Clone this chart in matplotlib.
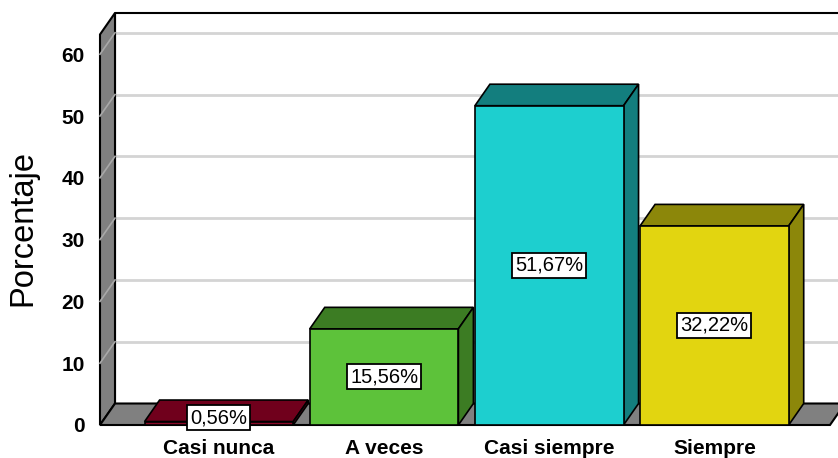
import numpy as np
import matplotlib
matplotlib.use("Agg")
import matplotlib.pyplot as plt
from matplotlib.patches import Polygon, Rectangle

plt.rcParams['font.family'] = ['Liberation Sans', 'DejaVu Sans']

# data
categorias = ['Casi nunca', 'A veces', 'Casi siempre', 'Siempre']
porcentajes = [0.56, 15.56, 51.67, 32.22]
yticks = [0, 10, 20, 30, 40, 50, 60]

# colours: front face, top/side face
frente = ['#8A0A28', '#5DC23A', '#1DCFCF', '#E2D510']
lado = ['#70001C', '#3C7C23', '#137E7E', '#8C870A']

fig = plt.figure(figsize=(8.38, 4.58), dpi=100)
W, H = 838, 458
ax = fig.add_axes([100 / W, 33 / H, 730 / W, 389.3 / H])
x_min, x_max = -0.72, 3.70
y_max = 63
ax.set_xlim(x_min, x_max)
ax.set_ylim(0, y_max)

# depth of the 3d effect (pixels -> data units)
inv = ax.transData.inverted()
p0 = ax.transData.transform((0, 0))
dx, dy = inv.transform(p0 + np.array([15, 21.5]))

def fondo(x, y):
    return (x + dx, y + dy)

tope = 63.2  # height of the walls

# back wall
ax.add_patch(Rectangle(fondo(x_min, 0), x_max + 1 - x_min, tope, fc='white',
                       ec='none', zorder=0, clip_on=False))
for v in yticks[1:]:
    ax.plot([x_min + dx, x_max + 1], [v + dy, v + dy], color='#d4d4d4', lw=2,
            zorder=0.5, clip_on=False, solid_capstyle='butt')
ax.plot([x_min + dx, x_min + dx, x_max + 1], [dy, tope + dy, tope + dy], color='black',
        lw=1.5, zorder=0.6, clip_on=False)

# left wall
pared = [(x_min, 0), (x_min, tope), fondo(x_min, tope), fondo(x_min, 0)]
ax.add_patch(Polygon(pared, closed=True, fc='#808080', ec='black', lw=1.5,
                     zorder=1, clip_on=False))
for v in yticks[1:]:
    ax.plot([x_min, x_min + dx], [v, v + dy], color='#a8a8a8', lw=1.2, zorder=1.1,
            clip_on=False)

# floor
piso = [(x_min, 0), (x_max, 0), fondo(x_max, 0), fondo(x_min, 0)]
ax.add_patch(Polygon(piso, closed=True, fc='#808080', ec='black', lw=1.5,
                     zorder=1, clip_on=False))

# bars
ancho = 0.9
for i, v in enumerate(porcentajes):
    x0, x1 = i - ancho / 2, i + ancho / 2
    tapa = [(x0, v), (x1, v), fondo(x1, v), fondo(x0, v)]
    costado = [(x1, 0), (x1, v), fondo(x1, v), fondo(x1, 0)]
    ax.add_patch(Polygon(tapa, closed=True, fc=lado[i], ec='black', lw=1.2,
                         zorder=2, clip_on=False))
    ax.add_patch(Polygon(costado, closed=True, fc=lado[i], ec='black', lw=1.2,
                         zorder=2, clip_on=False))
    ax.add_patch(Rectangle((x0, 0), ancho, v, fc=frente[i], ec='black', lw=1.2,
                           zorder=2.1, clip_on=False))
    etiqueta = f'{v:.2f}%'.replace('.', ',')
    ax.text(i, max(v / 2, 1.2), etiqueta, ha='center', va='center', fontsize=14.5,
            zorder=3, bbox=dict(boxstyle='square,pad=0.15', fc='white', ec='black', lw=1.3))

ax.set_xticks(range(len(categorias)))
ax.set_xticklabels(categorias, fontsize=15, fontweight='bold')
ax.set_yticks(yticks)
ax.set_yticklabels([str(t) for t in yticks], fontsize=15, fontweight='bold')
ax.tick_params(axis='x', length=0, pad=10)
ax.tick_params(axis='y', length=0, pad=11)
for s in ax.spines.values():
    s.set_visible(False)
ax.patch.set_visible(False)

fig.text(23 / W, 1 - 228 / H, 'Porcentaje', rotation=90, ha='center', va='center',
         fontsize=23.5)

fig.savefig('out.png', dpi=100)
